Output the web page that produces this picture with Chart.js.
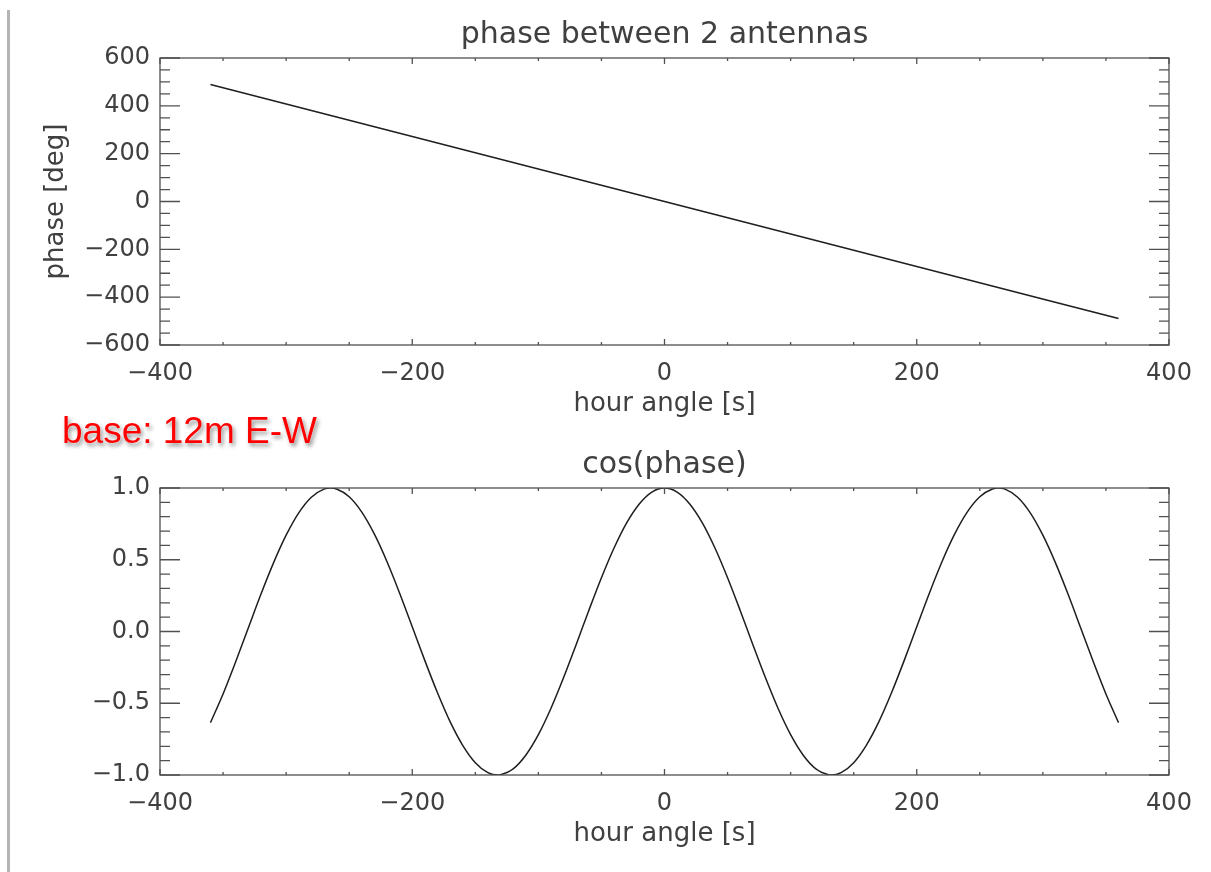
<!DOCTYPE html>
<html>
<head>
<meta charset="utf-8">
<script src="https://cdn.jsdelivr.net/npm/chart.js@4"></script>
<style>
  body { margin: 0; background: #fff; width: 1211px; height: 872px; overflow: hidden; position: relative; }
  #bar { position: absolute; left: 7px; top: 10px; width: 3px; height: 862px; background: #b4b4b4; }
  #topChart { position: absolute; left: 0; top: 0; }
  #bottomChart { position: absolute; left: 0; top: 420px; }
  #note {
    position: absolute; left: 62px; top: 412px; z-index: 2;
    font: 37px/37px "Liberation Sans", Arial, sans-serif; color: #ff0000;
    text-shadow: 0 0 1px #fff, 2px 3px 4px rgba(0, 0, 0, 0.45);
  }
</style>
</head>
<body>
<div id="bar"></div>
<canvas id="topChart" width="1211" height="420"></canvas>
<canvas id="bottomChart" width="1211" height="452"></canvas>
<div id="note">base: 12m E-W</div>
<script>
// phase vs hour angle
var phaseHours = [-360, -180, 0, 180, 360];
var phaseDeg = [489, 245, 0, -245, -489];

// cos(phase) vs hour angle
var cosHours = [-360, -350, -340, -330, -320, -310, -300, -290, -280, -270, -265, -260, -250, -240, -230, -220, -210, -200,
  -190, -180, -170, -160, -150, -140, -132, -130, -120, -110, -100, -90, -80, -70, -60, -50, -40, -30, -20, -10,
  0, 10, 20, 30, 40, 50, 60, 70, 80, 90, 100, 110, 120, 130, 132, 140, 150, 160, 170, 180, 190,
  200, 210, 220, 230, 240, 250, 260, 265, 270, 280, 290, 300, 310, 320, 330, 340, 350, 360];
var cosValues = [-0.635, -0.435, -0.211, 0.024, 0.259, 0.478, 0.671, 0.827, 0.936, 0.992, 1.0, 0.993, 0.939, 0.832, 0.678, 0.486, 0.267, 0.033,
  -0.203, -0.427, -0.628, -0.793, -0.914, -0.984, -1.0, -0.998, -0.957, -0.862, -0.719, -0.535, -0.321, -0.090, 0.147, 0.375, 0.582, 0.757, 0.889, 0.972,
  1.0, 0.972, 0.889, 0.757, 0.582, 0.375, 0.147, -0.090, -0.321, -0.535, -0.719, -0.862, -0.957, -0.998, -1.0, -0.984, -0.914, -0.793, -0.628, -0.427, -0.203,
  0.033, 0.267, 0.486, 0.678, 0.832, 0.939, 0.993, 1.0, 0.992, 0.936, 0.827, 0.671, 0.478, 0.259, 0.024, -0.211, -0.435, -0.635];

var xTicks = [-400, -200, 0, 200, 400];

var textColor = "#404040";
var frameColor = "#505050";
var fontName = "'DejaVu Sans', sans-serif";

function minusLabel(decimals) {
  return function (v) {
    if (Math.abs(v) < 1e-9) v = 0;
    return v.toFixed(decimals).replace("-", "\u2212");
  };
}

function points(xs, ys) {
  var out = [];
  for (var i = 0; i < xs.length; i++) {
    out.push({x: xs[i], y: ys[i]});
  }
  return out;
}

// IDL style box with inward ticks on all four sides
var frameTicks = {
  id: "frameTicks",
  afterDraw: function (chart, args, opts) {
    var ctx = chart.ctx;
    var a = chart.chartArea;
    var xs = chart.scales.x;
    var ys = chart.scales.y;
    ctx.save();
    ctx.strokeStyle = frameColor;
    ctx.lineWidth = 1.3;
    ctx.strokeRect(a.left, a.top, a.right - a.left, a.bottom - a.top);
    ctx.beginPath();
    var n = Math.round((xs.max - xs.min) / 50);
    for (var i = 0; i <= n; i++) {
      var px = xs.getPixelForValue(xs.min + i * 50);
      var len = (i % 4 === 0) ? 6 : 3;
      ctx.moveTo(px, a.bottom); ctx.lineTo(px, a.bottom - len);
      ctx.moveTo(px, a.top); ctx.lineTo(px, a.top + len);
    }
    var m = Math.round((ys.max - ys.min) / opts.minor);
    for (var j = 0; j <= m; j++) {
      var py = ys.getPixelForValue(ys.min + j * opts.minor);
      var ylen = (j % opts.every === 0) ? 20 : 10;
      ctx.moveTo(a.left, py); ctx.lineTo(a.left + ylen, py);
      ctx.moveTo(a.right, py); ctx.lineTo(a.right - ylen, py);
    }
    ctx.stroke();
    ctx.restore();
  }
};

function makeChart(id, opt) {
  return new Chart(id, {
    type: "line",
    data: {
      datasets: [{
        data: opt.data,
        borderColor: "#1e1e1e",
        borderWidth: 1.5,
        pointRadius: 0,
        fill: false,
        cubicInterpolationMode: "monotone"
      }]
    },
    plugins: [frameTicks],
    options: {
      responsive: false,
      animation: false,
      layout: {padding: {left: 0, right: 42, top: 0, bottom: 0}},
      plugins: {
        legend: {display: false},
        tooltip: {enabled: false},
        frameTicks: {minor: opt.minor, every: opt.every}
      },
      scales: {
        x: {
          type: "linear",
          min: -400,
          max: 400,
          afterBuildTicks: function (scale) {
            scale.ticks = xTicks.map(function (v) { return {value: v}; });
          },
          afterFit: function (scale) { scale.height = opt.xHeight; },
          grid: {display: false, drawTicks: false},
          border: {display: false},
          ticks: {
            padding: 14,
            color: textColor,
            font: {family: fontName, size: 24, lineHeight: 1.2},
            maxRotation: 0,
            callback: minusLabel(0)
          },
          title: {
            display: true,
            text: "hour angle [s]",
            color: textColor,
            font: {family: fontName, size: 26, lineHeight: 1.2},
            padding: {top: 0, bottom: opt.xTitleBottom}
          }
        },
        // top axis only carries the plot title, centred over the plot box
        xTop: {
          type: "linear",
          position: "top",
          min: -400,
          max: 400,
          afterFit: function (scale) { scale.height = opt.topHeight; },
          grid: {display: false, drawTicks: false},
          border: {display: false},
          ticks: {display: false},
          title: {
            display: true,
            text: opt.title,
            color: textColor,
            font: {family: fontName, size: 30, lineHeight: 1.2},
            padding: {top: opt.titleTop, bottom: 0}
          }
        },
        y: {
          min: opt.yMin,
          max: opt.yMax,
          afterFit: function (scale) { scale.width = 160; },
          grid: {display: false, drawTicks: false},
          border: {display: false},
          ticks: {
            stepSize: opt.yStep,
            padding: 10,
            color: textColor,
            font: {family: fontName, size: 24, lineHeight: 1.2},
            callback: minusLabel(opt.decimals)
          },
          title: {
            display: opt.yTitle !== "",
            text: opt.yTitle,
            color: textColor,
            font: {family: fontName, size: 26, lineHeight: 1.2},
            padding: {top: 41, bottom: 0}
          }
        }
      }
    }
  });
}

makeChart("topChart", {
  data: points(phaseHours, phaseDeg),
  title: "phase between 2 antennas",
  topHeight: 58,
  titleTop: 17,
  xHeight: 75,
  xTitleBottom: 0,
  yMin: -600, yMax: 600, yStep: 200, decimals: 0,
  minor: 50, every: 4,
  yTitle: "phase [deg]"
});

makeChart("bottomChart", {
  data: points(cosHours, cosValues),
  title: "cos(phase)",
  topHeight: 68,
  titleTop: 27,
  xHeight: 97,
  xTitleBottom: 22,
  yMin: -1, yMax: 1, yStep: 0.5, decimals: 1,
  minor: 0.1, every: 5,
  yTitle: ""
});
</script>
</body>
</html>
